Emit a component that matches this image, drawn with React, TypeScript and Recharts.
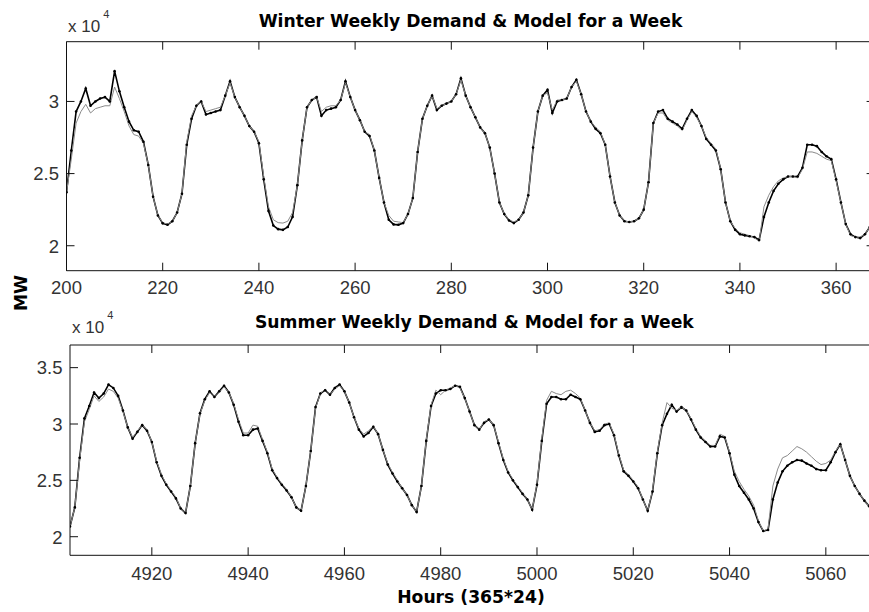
import { Line, LineChart, XAxis, YAxis } from "recharts";

// hourly samples, values in units of 10^4 MW
const WINTER_START = 200;
const SUMMER_START = 4903;

const winterActual = [
  2.37, 2.66, 2.93, 3.0, 3.09, 2.97, 3.0, 3.02, 3.03, 3.0, 3.21, 3.07, 2.96, 2.86, 2.8, 2.79, 2.72, 2.56, 2.34, 2.21, 2.155, 2.145, 2.17, 2.23,
  2.36, 2.7, 2.88, 2.97, 3.0, 2.91, 2.92, 2.93, 2.94, 3.04, 3.14, 3.03, 2.96, 2.9, 2.83, 2.79, 2.71, 2.46, 2.24, 2.14, 2.115, 2.11, 2.13, 2.2,
  2.42, 2.73, 2.96, 3.01, 3.03, 2.9, 2.94, 2.95, 2.96, 3.01, 3.14, 3.03, 2.94, 2.87, 2.79, 2.76, 2.66, 2.47, 2.3, 2.18, 2.148, 2.145, 2.157, 2.22,
  2.33, 2.65, 2.88, 2.97, 3.04, 2.94, 2.97, 2.985, 3.0, 3.05, 3.16, 3.04, 2.96, 2.89, 2.82, 2.78, 2.68, 2.5, 2.3, 2.22, 2.175, 2.157, 2.18, 2.23,
  2.35, 2.68, 2.93, 3.04, 3.08, 2.92, 3.0, 3.01, 3.02, 3.1, 3.15, 3.05, 2.93, 2.86, 2.81, 2.78, 2.7, 2.48, 2.3, 2.21, 2.17, 2.165, 2.17, 2.19,
  2.25, 2.44, 2.85, 2.93, 2.94, 2.88, 2.86, 2.84, 2.81, 2.88, 2.94, 2.9, 2.83, 2.74, 2.7, 2.66, 2.53, 2.3, 2.17, 2.11, 2.08, 2.072, 2.066, 2.06,
  2.04, 2.2, 2.3, 2.38, 2.43, 2.46, 2.48, 2.48, 2.48, 2.54, 2.7, 2.7, 2.69, 2.65, 2.62, 2.6, 2.46, 2.3, 2.15, 2.08, 2.06, 2.053, 2.08, 2.13,
  2.18,
];

const winterModel = [
  2.37, 2.6, 2.85, 2.93, 2.98, 2.92, 2.95, 2.96, 2.97, 2.97, 3.1, 3.02, 2.93, 2.83, 2.77, 2.76, 2.71, 2.56, 2.34, 2.21, 2.16, 2.15, 2.17, 2.23,
  2.36, 2.72, 2.9, 2.97, 3.0, 2.93, 2.94, 2.95, 2.96, 3.04, 3.13, 3.03, 2.96, 2.9, 2.83, 2.79, 2.72, 2.48, 2.27, 2.18, 2.16, 2.157, 2.17, 2.23,
  2.42, 2.73, 2.96, 3.01, 3.03, 2.93, 2.96, 2.97, 2.97, 3.01, 3.13, 3.03, 2.94, 2.87, 2.79, 2.77, 2.66, 2.47, 2.3, 2.21, 2.17, 2.165, 2.16, 2.22,
  2.33, 2.65, 2.88, 2.97, 3.04, 2.95, 2.97, 2.985, 3.0, 3.05, 3.15, 3.04, 2.96, 2.89, 2.82, 2.78, 2.68, 2.5, 2.3, 2.22, 2.18, 2.165, 2.18, 2.23,
  2.35, 2.68, 2.93, 3.04, 3.06, 2.94, 3.01, 3.01, 3.02, 3.1, 3.14, 3.05, 2.93, 2.86, 2.82, 2.79, 2.7, 2.48, 2.3, 2.21, 2.17, 2.165, 2.17, 2.19,
  2.25, 2.44, 2.85, 2.92, 2.92, 2.87, 2.85, 2.83, 2.8, 2.87, 2.93, 2.89, 2.83, 2.75, 2.71, 2.67, 2.53, 2.3, 2.17, 2.12, 2.09, 2.08, 2.07, 2.055,
  2.03, 2.27, 2.35, 2.41, 2.45, 2.47, 2.48, 2.48, 2.47, 2.53, 2.65, 2.65, 2.64, 2.62, 2.6, 2.59, 2.45, 2.3, 2.15, 2.07, 2.06, 2.06, 2.08, 2.13,
  2.18,
];

const summerActual = [
  2.09, 2.26, 2.7, 3.05, 3.16, 3.28, 3.23, 3.27, 3.35, 3.32, 3.25, 3.12, 2.97, 2.87, 2.93, 2.99, 2.94, 2.84, 2.66, 2.54, 2.46, 2.4, 2.34, 2.25,
  2.21, 2.45, 2.83, 3.095, 3.22, 3.29, 3.24, 3.29, 3.34, 3.28, 3.17, 3.02, 2.9, 2.9, 2.95, 2.96, 2.85, 2.74, 2.59, 2.52, 2.46, 2.41, 2.35, 2.26,
  2.23, 2.45, 2.76, 3.15, 3.27, 3.3, 3.26, 3.32, 3.35, 3.29, 3.19, 3.06, 2.95, 2.89, 2.92, 2.975, 2.91, 2.77, 2.64, 2.56, 2.49, 2.43, 2.37, 2.28,
  2.22, 2.45, 2.85, 3.16, 3.27, 3.3, 3.3, 3.31, 3.34, 3.33, 3.23, 3.11, 2.99, 2.95, 3.01, 3.04, 2.99, 2.83, 2.68, 2.57, 2.5, 2.44, 2.38, 2.33,
  2.24, 2.46, 2.85, 3.18, 3.24, 3.24, 3.22, 3.22, 3.26, 3.24, 3.22, 3.12, 3.01, 2.93, 2.94, 2.99, 3.0, 2.9, 2.72, 2.58, 2.54, 2.49, 2.43, 2.33,
  2.23, 2.4, 2.74, 2.99, 3.09, 3.17, 3.11, 3.15, 3.12, 3.04, 2.95, 2.88, 2.84, 2.8, 2.8, 2.89, 2.88, 2.74, 2.55, 2.45, 2.39, 2.33, 2.25, 2.13,
  2.05, 2.06, 2.33, 2.48, 2.58, 2.63, 2.66, 2.68, 2.675, 2.65, 2.63, 2.6, 2.59, 2.59, 2.66, 2.75, 2.82, 2.68, 2.54, 2.45, 2.38, 2.32, 2.27, 2.23,
  2.2,
];

const summerModel = [
  2.09, 2.26, 2.68, 3.02, 3.13, 3.25, 3.2, 3.24, 3.31, 3.29, 3.23, 3.11, 2.97, 2.88, 2.94, 2.99, 2.95, 2.84, 2.67, 2.55, 2.47, 2.41, 2.35, 2.25,
  2.21, 2.45, 2.83, 3.09, 3.21, 3.28, 3.24, 3.28, 3.33, 3.28, 3.18, 3.04, 2.92, 2.92, 2.99, 2.98, 2.86, 2.75, 2.6, 2.53, 2.47, 2.42, 2.35, 2.26,
  2.23, 2.45, 2.76, 3.14, 3.27, 3.31, 3.26, 3.31, 3.34, 3.29, 3.19, 3.06, 2.96, 2.91, 2.94, 2.98, 2.91, 2.77, 2.65, 2.57, 2.5, 2.43, 2.37, 2.28,
  2.22, 2.45, 2.86, 3.17, 3.3, 3.26, 3.3, 3.32, 3.34, 3.32, 3.23, 3.11, 2.99, 2.95, 3.02, 3.04, 2.99, 2.84, 2.69, 2.58, 2.51, 2.45, 2.39, 2.33,
  2.24, 2.47, 2.87, 3.21, 3.29, 3.27, 3.26, 3.29, 3.3, 3.27, 3.23, 3.12, 3.01, 2.94, 2.95, 3.0, 3.01, 2.91, 2.73, 2.59, 2.55, 2.5, 2.44, 2.33,
  2.23, 2.41, 2.75, 3.01, 3.19, 3.14, 3.12, 3.15, 3.12, 3.05, 2.96, 2.89, 2.85, 2.81, 2.81, 2.91, 2.89, 2.75, 2.58, 2.49, 2.42, 2.36, 2.28, 2.14,
  2.05, 2.07, 2.45, 2.6, 2.7, 2.72, 2.76, 2.8, 2.78, 2.75, 2.71, 2.67, 2.64, 2.65, 2.68, 2.76, 2.82, 2.68, 2.54, 2.45, 2.38, 2.32, 2.27, 2.23,
  2.2,
];

const winterXTicks = [200, 220, 240, 260, 280, 300, 320, 340, 360];
const summerXTicks = [4920, 4940, 4960, 4980, 5000, 5020, 5040, 5060];
const winterYTicks = [2, 2.5, 3];
const summerYTicks = [2, 2.5, 3, 3.5];

const winterData = winterActual.map((v, i) => ({ hour: WINTER_START + i, actual: v, model: winterModel[i] }));
const summerData = summerActual.map((v, i) => ({ hour: SUMMER_START + i, actual: v, model: summerModel[i] }));

const TICK = 8;
const AXIS = "#111";
const numFont = { fontFamily: '"Liberation Sans", Arial, sans-serif', fontSize: 18.5, fill: "#333" };
const boldFont = { fontFamily: '"DejaVu Sans", sans-serif', fontSize: 17.2, fontWeight: 700, fill: "#000" };

const bottomTick = (dy: number) => (p: any) => (
  <g>
    <line x1={p.x} y1={p.y} x2={p.x} y2={p.y - TICK} stroke={AXIS} />
    <text x={p.x} y={p.y + dy} textAnchor="middle" style={numFont}>
      {p.payload.value}
    </text>
  </g>
);

const leftTick = (p: any) => (
  <g>
    <line x1={p.x} y1={p.y} x2={p.x + TICK} y2={p.y} stroke={AXIS} />
    <text x={p.x - 7.5} y={p.y + 6.8} textAnchor="end" style={numFont}>
      {p.payload.value}
    </text>
  </g>
);

const topTick = (p: any) => <line x1={p.x} y1={p.y} x2={p.x} y2={p.y + TICK} stroke={AXIS} />;
const rightTick = (p: any) => <line x1={p.x} y1={p.y} x2={p.x - TICK} y2={p.y} stroke={AXIS} />;

function Panel({ data, xDomain, yDomain, xTicks, yTicks, height, margin, labelDy }: any) {
  return (
    <LineChart width={900} height={height} data={data} margin={margin}>
      <XAxis dataKey="hour" type="number" domain={xDomain} ticks={xTicks} allowDataOverflow
        height={20} tickSize={0} tickMargin={0} axisLine={{ stroke: AXIS }} tickLine={false} tick={bottomTick(labelDy)} />
      <XAxis xAxisId="top" orientation="top" dataKey="hour" type="number" domain={xDomain} ticks={xTicks} allowDataOverflow
        height={10} tickSize={0} tickMargin={0} axisLine={{ stroke: AXIS }} tickLine={false} tick={topTick} />
      <YAxis type="number" domain={yDomain} ticks={yTicks} allowDataOverflow
        width={40} tickSize={0} tickMargin={0} axisLine={{ stroke: AXIS }} tickLine={false} tick={leftTick} />
      <YAxis yAxisId="right" orientation="right" type="number" domain={yDomain} ticks={yTicks} allowDataOverflow
        width={10} tickSize={0} tickMargin={0} axisLine={{ stroke: AXIS }} tickLine={false} tick={rightTick} />
      <Line dataKey="actual" stroke="#000" strokeWidth={1.6} dot={{ r: 1.3, fill: "#000", stroke: "none" }} isAnimationActive={false} />
      <Line dataKey="model" stroke="#8a8a8a" strokeWidth={1} dot={false} isAnimationActive={false} />
    </LineChart>
  );
}

export default function App() {
  return (
    <div style={{ position: "absolute", left: 0, top: 0, width: 869, height: 612, overflow: "hidden", background: "#fff" }}>
      <div style={{ position: "absolute", left: 0, top: 0 }}>
        <Panel data={winterData} xDomain={[200, 368]} yDomain={[1.827, 3.414]} xTicks={winterXTicks} yTicks={winterYTicks}
          height={300} margin={{ top: 31.7, right: 15.4, bottom: 9.3, left: 26.5 }} labelDy={23} />
      </div>
      <div style={{ position: "absolute", left: 0, top: 300 }}>
        <Panel data={summerData} xDomain={[4903, 5071]} yDomain={[1.835, 3.701]} xTicks={summerXTicks} yTicks={summerYTicks}
          height={312} margin={{ top: 35, right: 11.2, bottom: 36.7, left: 30 }} labelDy={24.5} />
      </div>
      <svg width={869} height={612} style={{ position: "absolute", left: 0, top: 0, pointerEvents: "none" }}>
        <text x={470.5} y={27} textAnchor="middle" style={boldFont}>Winter Weekly Demand &amp; Model for a Week</text>
        <text x={474.4} y={328} textAnchor="middle" style={boldFont}>Summer Weekly Demand &amp; Model for a Week</text>
        <text x={68} y={32} style={{ ...numFont, fontSize: 17 }}>
          x 10<tspan dx={3} dy={-14} style={{ fontSize: 11 }}>4</tspan>
        </text>
        <text x={72} y={333} style={{ ...numFont, fontSize: 17 }}>
          x 10<tspan dx={3} dy={-14} style={{ fontSize: 11 }}>4</tspan>
        </text>
        <text x={0} y={0} textAnchor="middle" transform="translate(27 293) rotate(-90)" style={boldFont}>MW</text>
        <text x={471} y={603} textAnchor="middle" style={boldFont}>Hours (365*24)</text>
      </svg>
    </div>
  );
}
